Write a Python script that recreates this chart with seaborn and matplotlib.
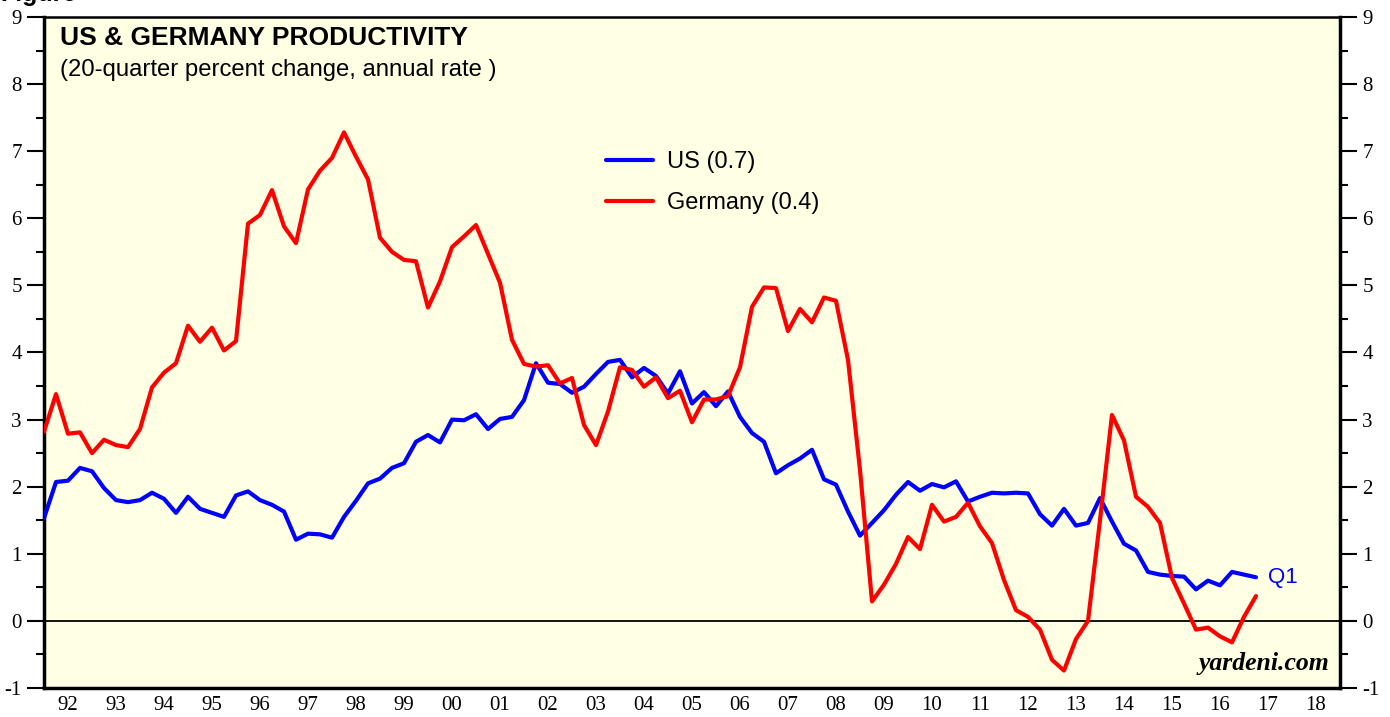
import numpy as np
import pandas as pd
import seaborn as sns
import matplotlib.pyplot as plt
from matplotlib.ticker import MultipleLocator, FixedLocator

# quarterly readings, 20-quarter percent change (annual rate)
us_vals = [
    1.53, 2.07, 2.09, 2.28, 2.23, 1.98, 1.80, 1.77, 1.80, 1.91,
    1.82, 1.61, 1.85, 1.67, 1.61, 1.55, 1.87, 1.93, 1.80, 1.73,
    1.63, 1.21, 1.30, 1.29, 1.24, 1.55, 1.79, 2.05, 2.12, 2.28,
    2.35, 2.67, 2.77, 2.66, 3.00, 2.99, 3.08, 2.86, 3.01, 3.04,
    3.29, 3.84, 3.55, 3.53, 3.40, 3.49, 3.68, 3.86, 3.89, 3.63,
    3.77, 3.65, 3.39, 3.72, 3.24, 3.41, 3.20, 3.42, 3.04, 2.80,
    2.67, 2.20, 2.32, 2.42, 2.55, 2.11, 2.03, 1.63, 1.27, 1.46,
    1.65, 1.88, 2.07, 1.94, 2.04, 1.99, 2.08, 1.78, 1.85, 1.91,
    1.90, 1.91, 1.90, 1.59, 1.42, 1.67, 1.42, 1.46, 1.83, 1.48,
    1.15, 1.05, 0.73, 0.69, 0.67, 0.66, 0.47, 0.60, 0.53, 0.73,
    0.69, 0.65,
]
germany_vals = [
    2.82, 3.38, 2.79, 2.81, 2.50, 2.70, 2.62, 2.59, 2.86, 3.48,
    3.70, 3.84, 4.40, 4.16, 4.37, 4.03, 4.17, 5.92, 6.05, 6.42,
    5.88, 5.63, 6.43, 6.71, 6.90, 7.28, 6.92, 6.58, 5.71, 5.50,
    5.38, 5.36, 4.67, 5.06, 5.57, 5.73, 5.90, 5.47, 5.04, 4.19,
    3.83, 3.79, 3.81, 3.54, 3.62, 2.92, 2.62, 3.12, 3.78, 3.74,
    3.49, 3.63, 3.32, 3.43, 2.96, 3.30, 3.30, 3.35, 3.78, 4.68,
    4.97, 4.96, 4.32, 4.65, 4.45, 4.82, 4.77, 3.89, 2.25, 0.29,
    0.54, 0.85, 1.25, 1.07, 1.73, 1.48, 1.55, 1.76, 1.41, 1.16,
    0.61, 0.16, 0.06, -0.13, -0.58, -0.74, -0.27, 0.00, 1.50, 3.07,
    2.69, 1.85, 1.70, 1.46, 0.64, 0.26, -0.13, -0.10, -0.23, -0.32,
    0.06, 0.37,
]
series_names = ["US (0.7)", "Germany (0.4)"]
series_colors = ["#0000ff", "#ff0000"]
years = list(range(1992, 2019))
year_labels = [f"{y % 100:02d}" for y in years]

quarters = 1992 + 0.25 * np.arange(len(us_vals))
df = pd.DataFrame({
    "t": np.concatenate([quarters, quarters]),
    "value": us_vals + germany_vals,
    "series": [series_names[0]] * len(us_vals) + [series_names[1]] * len(germany_vals),
})

sns.set_style("white")
plt.rcParams["font.family"] = ["Liberation Sans", "DejaVu Sans"]
plt.rcParams["axes.unicode_minus"] = False
plt.rcParams["text.color"] = "black"
plt.rcParams["xtick.color"] = "black"
plt.rcParams["ytick.color"] = "black"

fig = plt.figure(figsize=(13.9, 7.17), dpi=100)
ax = fig.add_axes([44 / 1390, 29 / 717, 1296 / 1390, 671 / 717])
ax.set_facecolor("#ffffe3")

ax.axhline(0, color="black", lw=1.3, zorder=1)
sns.lineplot(data=df, x="t", y="value", hue="series", palette=series_colors,
             linewidth=3, ax=ax, zorder=3)

ax.set_xlim(1992, 2019)
ax.set_ylim(-1, 9)
ax.set_xlabel("")
ax.set_ylabel("")

# year boundaries get the ticks, labels sit mid-year
ax.xaxis.set_major_locator(FixedLocator(years + [2019]))
ax.set_xticklabels([])
ax.set_xticks([y + 0.5 for y in years], labels=year_labels, minor=True)
ax.tick_params(axis="x", which="major", direction="out", length=14, width=2, color="black")
ax.tick_params(axis="x", which="minor", length=0, pad=6)

ax.yaxis.set_major_locator(MultipleLocator(1))
ax.yaxis.set_minor_locator(MultipleLocator(0.5))
ax.tick_params(axis="y", which="major", direction="out", length=12, width=1.5,
               left=True, right=True, labelleft=True, labelright=True, pad=4)
ax.tick_params(axis="y", which="minor", direction="out", length=6, width=1.5,
               left=True, right=True)
for lbl in ax.get_xticklabels(minor=True):
    lbl.set_fontfamily("Liberation Serif")
    lbl.set_fontsize(15)
for t in ax.yaxis.get_major_ticks():
    for lbl in (t.label1, t.label2):
        lbl.set_fontfamily("Liberation Serif")
        lbl.set_fontsize(15)

for side in ["left", "right", "bottom"]:
    ax.spines[side].set_linewidth(2.5)
    ax.spines[side].set_color("black")
ax.spines["top"].set_linewidth(1.8)
ax.spines["top"].set_color("black")

leg = ax.legend(loc="upper left", bbox_to_anchor=(0.417, 0.832), frameon=False,
                fontsize=17, handlelength=2.0, handletextpad=0.6, labelspacing=0.8)
for line in leg.get_lines():
    line.set_linewidth(3)
for txt in leg.get_texts():
    txt.set_color("black")

ax.text(0.012, 0.987, "US & GERMANY PRODUCTIVITY", transform=ax.transAxes,
        fontsize=19, fontweight="bold", va="top", ha="left")
ax.text(0.012, 0.938, "(20-quarter percent change, annual rate )", transform=ax.transAxes,
        fontsize=17.2, va="top", ha="left")
ax.text(quarters[-1] + 0.25, us_vals[-1], "Q1", color="#0000ff", fontsize=16,
        va="center", ha="left")
ax.text(0.992, 0.02, "yardeni.com", transform=ax.transAxes, fontsize=18.5,
        fontfamily="Liberation Serif", fontweight="bold", fontstyle="italic",
        ha="right", va="bottom")

# page caption above the chart, mostly cropped away as in the source image
fig.text(0.0, 1 - 1 / 717, "Figure", fontsize=18, fontweight="bold", va="baseline")

fig.savefig("out.png", dpi=100)
